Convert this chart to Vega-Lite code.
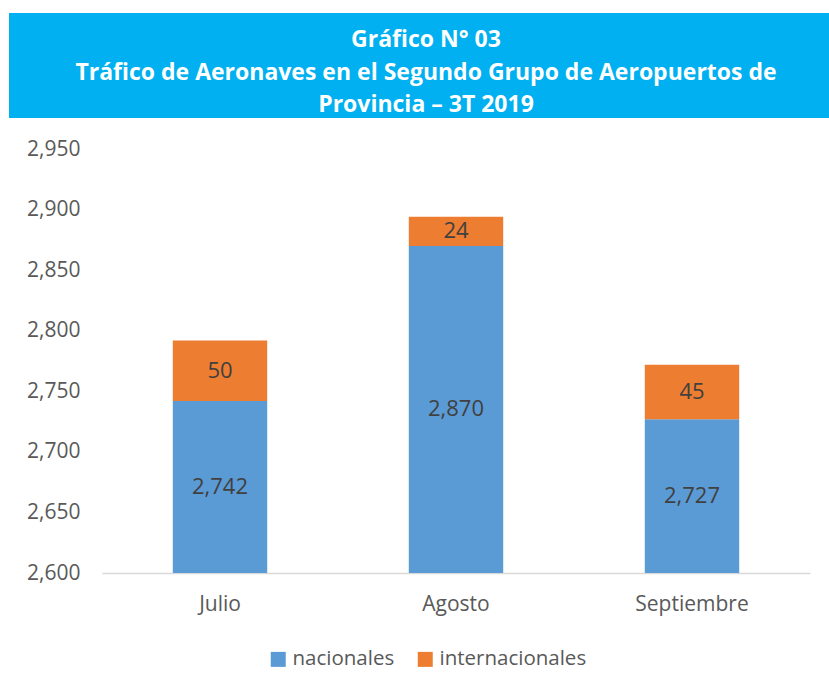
{
  "$schema": "https://vega.github.io/schema/vega-lite/v6.json",
  "padding": {"left": 9, "top": 13, "right": 0, "bottom": 115},
  "background": "white",
  "bounds": "flush",
  "spacing": 31,
  "config": {"view": {"stroke": null}, "font": "Open Sans"},
  "vconcat": [
    {
      "width": 820,
      "height": 105,
      "view": {"fill": "#00B0F0", "stroke": null},
      "data": {"values": [
        {"linea": 1, "texto": "Gráfico N° 03"},
        {"linea": 2, "texto": "Tráfico de Aeronaves en el Segundo Grupo de Aeropuertos de"},
        {"linea": 3, "texto": "Provincia – 3T 2019"}
      ]},
      "mark": {"type": "text", "font": "Open Sans", "fontWeight": "bold", "fontSize": 23, "color": "white", "dy": 7, "dx": 7},
      "encoding": {
        "y": {"field": "linea", "type": "ordinal", "axis": null, "scale": {"padding": 0.6}},
        "text": {"field": "texto"}
      }
    },
    {
      "bounds": "flush",
      "spacing": 0,
      "hconcat": [
        {
          "width": 93,
          "height": 424,
          "data": {"values": [{}]},
          "mark": {"type": "point", "opacity": 0},
          "encoding": {}
        },
        {
          "width": 708,
          "height": 424,
          "data": {"values": [
            {"mes": "Julio", "tipo": "nacionales", "valor": 2742},
            {"mes": "Julio", "tipo": "internacionales", "valor": 50},
            {"mes": "Agosto", "tipo": "nacionales", "valor": 2870},
            {"mes": "Agosto", "tipo": "internacionales", "valor": 24},
            {"mes": "Septiembre", "tipo": "nacionales", "valor": 2727},
            {"mes": "Septiembre", "tipo": "internacionales", "valor": 45}
          ]},
          "transform": [
            {"stack": "valor", "groupby": ["mes"], "sort": [{"field": "tipo", "order": "descending"}], "as": ["inicio", "fin"]},
            {"calculate": "(max(datum.inicio, 2600) + datum.fin) / 2", "as": "medio"}
          ],
          "encoding": {
            "x": {
              "field": "mes", "type": "nominal",
              "sort": ["Julio", "Agosto", "Septiembre"],
              "scale": {"paddingInner": 0.6, "paddingOuter": 0.3},
              "axis": {
                "title": null, "labelAngle": 0, "ticks": false, "labelPadding": 20,
                "labelFontSize": 21, "labelColor": "#595959", "labelFont": "Open Sans",
                "domainColor": "#D9D9D9", "domainWidth": 1.5
              }
            }
          },
          "layer": [
            {
              "mark": {"type": "bar", "clip": true},
              "encoding": {
                "y": {
                  "field": "fin", "type": "quantitative",
                  "scale": {"domain": [2600, 2950], "nice": false, "zero": false},
                  "axis": {
                    "title": null, "values": [2600, 2650, 2700, 2750, 2800, 2850, 2900, 2950],
                    "format": ",d", "grid": false, "domain": false, "ticks": false, "tickSize": 0,
                    "labelPadding": 22, "labelFontSize": 21, "labelColor": "#595959",
                    "labelFont": "Open Sans", "labelFlush": false
                  }
                },
                "y2": {"field": "inicio"},
                "color": {
                  "field": "tipo", "type": "nominal",
                  "scale": {"domain": ["nacionales", "internacionales"], "range": ["#5B9BD5", "#ED7D31"]},
                  "legend": {
                    "title": null, "orient": "none", "direction": "horizontal",
                    "legendX": 259, "legendY": 636,
                    "symbolType": "square", "symbolSize": 225, "symbolStrokeWidth": 0,
                    "labelFontSize": 20.5, "labelColor": "#595959", "labelFont": "Open Sans",
                    "columnPadding": 20, "labelOffset": 4
                  }
                }
              }
            },
            {
              "mark": {"type": "text", "fontSize": 22, "color": "#404040", "font": "Open Sans"},
              "encoding": {
                "y": {"field": "medio", "type": "quantitative"},
                "text": {"field": "valor", "format": ",d"}
              }
            }
          ]
        }
      ]
    }
  ]
}
